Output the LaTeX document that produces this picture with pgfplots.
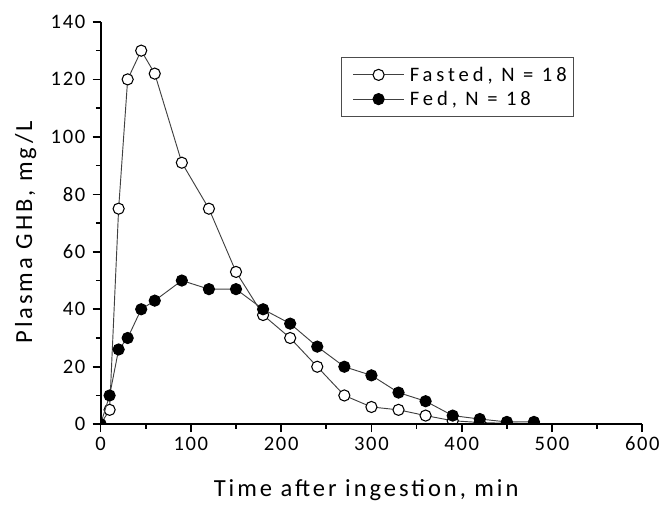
\documentclass[border=0pt]{standalone}
\usepackage{fontspec}
\setmainfont{Carlito}
\newfontfamily\spaced[LetterSpace=12]{Carlito}
\newfontfamily\legfont[LetterSpace=19]{Carlito}
\newfontfamily\tickfont[LetterSpace=8]{Carlito}
\usepackage{pgfplots}
\pgfplotsset{compat=1.18}
\begin{document}
\begin{tikzpicture}
\begin{axis}[
  name=ax,
  scale only axis,
  width=408pt, height=303pt,
  xmin=0, xmax=600, ymin=0, ymax=140,
  axis x line=bottom, axis y line=left,
  axis line style={-, line width=1.5pt},
  xtick={0,100,...,600}, ytick={0,20,...,140},
  minor x tick num=1, minor y tick num=1,
  tick align=outside,
  major tick length=6pt, minor tick length=3.5pt,
  every tick/.style={black, line width=1.2pt},
  /pgf/number format/assume math mode=true,
  tick label style={font=\tickfont\fontsize{15.5}{18}\selectfont},
  yticklabel style={xshift=-2pt},
  xlabel={\spaced\fontsize{18.5}{22}\selectfont Time after ingestion, min},
  ylabel={\spaced\fontsize{18.5}{22}\selectfont Plasma GHB, mg/L},
  xlabel style={yshift=-15pt, xshift=-4pt},
  ylabel style={yshift=4pt, xshift=-7pt},
  clip marker paths=true,
  axis on top,
  legend style={at={(0.443,0.913)}, anchor=north west, draw=black!70, line width=0.8pt,
    font=\legfont\fontsize{15.5}{18}\selectfont, inner xsep=3pt, inner ysep=5pt, row sep=2pt},
  legend cell align=left,
  legend image code/.code={
    \path (-0.2cm,0) (1.42cm,0);
    \draw[#1, mark=none] (0cm,0cm) -- (1.35cm,0cm);
    \draw[#1, only marks] plot coordinates {(0.675cm,0cm)};
  },
]
\addplot[black!75, line width=0.7pt, mark=*, mark size=4.2pt,
  mark options={fill=white, draw=black, line width=0.8pt}] coordinates {
(0,0) (10,5) (20,75) (30,120) (45,130) (60,122) (90,91) (120,75) (150,53)
(180,38) (210,30) (240,20) (270,10) (300,6) (330,5) (360,3) (390,1.2)
(420,0.6) (450,0.3) (480,0.2)};
\addlegendentry{Fasted, N = 18}
\addplot[black!75, line width=0.7pt, mark=*, mark size=4.2pt,
  mark options={fill=black, draw=black, line width=0.8pt}] coordinates {
(0,0) (10,10) (20,26) (30,30) (45,40) (60,43) (90,50) (120,47) (150,47)
(180,40) (210,35) (240,27) (270,20) (300,17) (330,11) (360,8) (390,3)
(420,1.8) (450,0.8) (480,0.8)};
\addlegendentry{Fed, N = 18}
\end{axis}
\useasboundingbox ([xshift=-75.75pt,yshift=-58.5pt]ax.south west) rectangle ([xshift=14.25pt,yshift=16.5pt]ax.north east);
\end{tikzpicture}
\end{document}
